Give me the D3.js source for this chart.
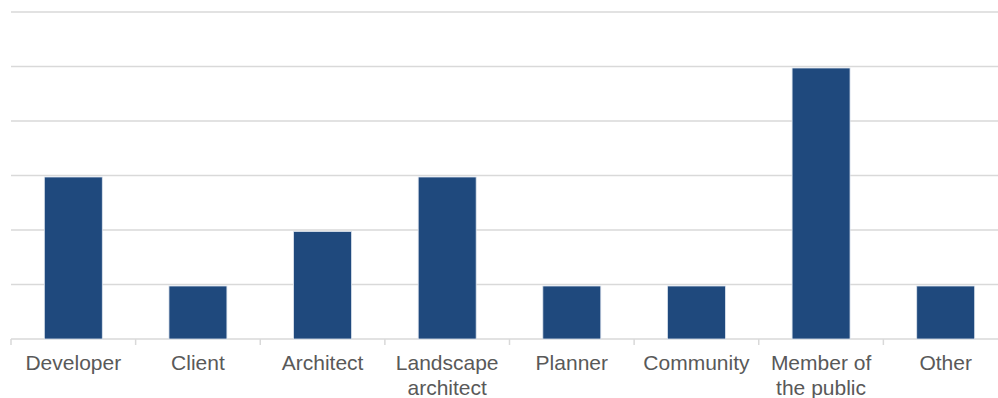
<!DOCTYPE html>
<html>
<head>
<meta charset="utf-8">
<script src="https://cdnjs.cloudflare.com/ajax/libs/d3/7.8.5/d3.min.js"></script>
<style>
	body { margin: 0; background: #fff; }
	svg { display: block; }
	.grid line { stroke: #d9d9d9; stroke-width: 1.5px; }
	.cat text { font-family: "Liberation Sans", Arial, sans-serif; font-size: 21px; fill: #595959; }
</style>
</head>
<body>
<div id="chart"></div>
<script>
// data
var categories = ["Developer", "Client", "Architect", "Landscape architect", "Planner", "Community", "Member of the public", "Other"];
var labelLines = [["Developer"], ["Client"], ["Architect"], ["Landscape", "architect"], ["Planner"], ["Community"], ["Member of", "the public"], ["Other"]];
var counts = [3, 1, 2, 3, 1, 1, 5, 1];
var yTicks = [0, 1, 2, 3, 4, 5, 6];

var W = 998, H = 398;
var m = {left: 11, top: 12, bottom: 59};
var plotW = 997;   // plot runs a bit past the right edge, as in the original

var svg = d3.select("#chart").append("svg")
	.attr("width", W)
	.attr("height", H);

var x = d3.scaleBand()
	.domain(categories)
	.range([m.left, m.left + plotW])
	.paddingInner(0.535)
	.paddingOuter(0.2675);

var y = d3.scaleLinear()
	.domain([0, 6])
	.range([H - m.bottom, m.top]);

// gridlines
svg.append("g").attr("class", "grid")
	.selectAll("line")
	.data(yTicks)
	.enter().append("line")
	.attr("x1", m.left)
	.attr("x2", m.left + plotW)
	.attr("y1", function(d) { return y(d); })
	.attr("y2", function(d) { return y(d); });

// bars
svg.append("g")
	.selectAll("rect")
	.data(counts)
	.enter().append("rect")
	.attr("x", function(d, i) { return x(categories[i]); })
	.attr("width", x.bandwidth())
	.attr("y", function(d) { return y(d) + 1.5; })
	.attr("height", function(d) { return y(0) - y(d) - 1.5; })
	.attr("fill", "#1f497d")
	.attr("stroke", "#dde4ee")
	.attr("stroke-width", 0.8);

// category ticks (between categories)
var step = x.step();
var tickXs = d3.range(categories.length + 1).map(function(i) { return m.left + i * plotW / categories.length; });
svg.append("g").attr("class", "grid")
	.selectAll("line")
	.data(tickXs)
	.enter().append("line")
	.attr("x1", function(d) { return d; })
	.attr("x2", function(d) { return d; })
	.attr("y1", y(0))
	.attr("y2", y(0) + 6);

// category labels
var cat = svg.append("g").attr("class", "cat");
labelLines.forEach(function(lines, i) {
	var cx = x(categories[i]) + x.bandwidth() / 2;
	var t = cat.append("text")
		.attr("text-anchor", "middle")
		.attr("x", cx)
		.attr("y", 370);
	lines.forEach(function(s, j) {
		t.append("tspan")
			.attr("x", cx)
			.attr("dy", j === 0 ? 0 : 25)
			.text(s);
	});
});
</script>
</body>
</html>
